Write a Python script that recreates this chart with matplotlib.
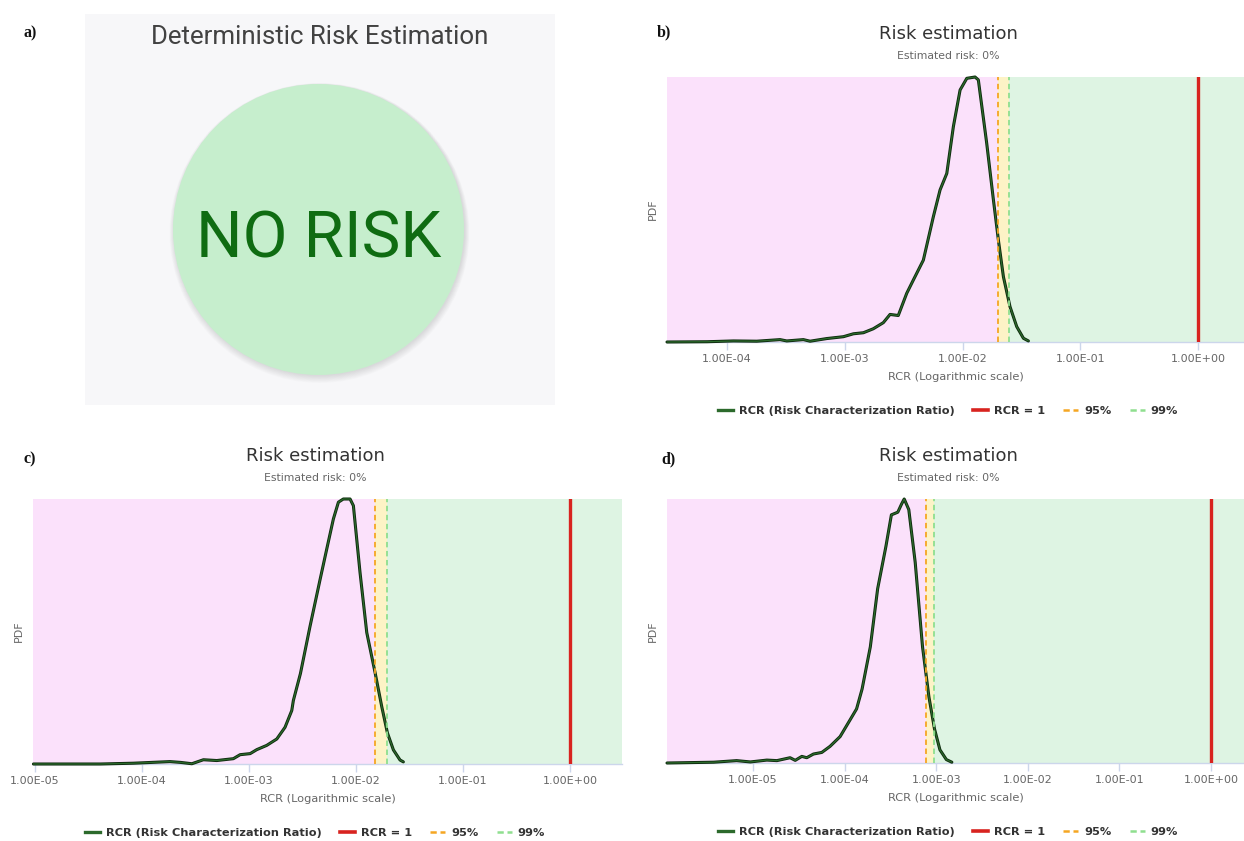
import matplotlib
matplotlib.use("Agg")
import matplotlib.pyplot as plt
from matplotlib.patches import Circle, Rectangle
from matplotlib.lines import Line2D
from matplotlib.ticker import FixedLocator, FuncFormatter, NullLocator

W, H = 1244, 841

# ---------------- data ----------------
# panel b: log10(RCR) and relative probability density
b_log_rcr = [-4.51, -4.17, -3.946, -3.748, -3.55, -3.493, -3.352, -3.295, -3.153,
             -3.012, -2.927, -2.842, -2.758, -2.673, -2.616, -2.546, -2.474, -2.418,
             -2.333, -2.248, -2.191, -2.134, -2.078, -2.021, -1.964, -1.894, -1.866,
             -1.795, -1.738, -1.696, -1.653, -1.597, -1.54, -1.483, -1.441]
b_pdf = [0.000, 0.001, 0.004, 0.003, 0.009, 0.004, 0.009, 0.003, 0.013,
         0.020, 0.031, 0.035, 0.050, 0.073, 0.104, 0.100, 0.184, 0.234,
         0.309, 0.473, 0.574, 0.636, 0.813, 0.951, 0.995, 1.000, 0.989,
         0.750, 0.536, 0.385, 0.246, 0.133, 0.058, 0.014, 0.004]
b_p95 = 0.0200
b_p99 = 0.0246
b_xlim = (10 ** -4.51, 10 ** 0.39)
b_ticks = [1e-4, 1e-3, 1e-2, 1e-1, 1e0]

# panel c
c_log_rcr = [-5.016, -4.39, -4.08, -3.74, -3.64, -3.535, -3.427, -3.302, -3.147,
             -3.084, -2.99, -2.928, -2.835, -2.741, -2.664, -2.601, -2.586, -2.52,
             -2.43, -2.336, -2.274, -2.212, -2.165, -2.119, -2.056, -2.025, -1.963,
             -1.9, -1.822, -1.76, -1.707, -1.651, -1.589, -1.558]
c_pdf = [0.000, 0.000, 0.003, 0.009, 0.006, 0.001, 0.016, 0.013, 0.020,
         0.035, 0.039, 0.054, 0.070, 0.094, 0.138, 0.201, 0.239, 0.340,
         0.518, 0.694, 0.808, 0.921, 0.984, 0.996, 0.996, 0.971, 0.720,
         0.494, 0.343, 0.216, 0.117, 0.053, 0.015, 0.008]
c_p95 = 0.0151
c_p99 = 0.0195
c_xlim = (10 ** -5.02, 10 ** 0.486)
c_ticks = [1e-5, 1e-4, 1e-3, 1e-2, 1e-1, 1e0]

# panel d
d_log_rcr = [-5.94, -5.43, -5.18, -5.03, -4.85, -4.74, -4.596, -4.54, -4.468, -4.414,
             -4.341, -4.25, -4.16, -4.05, -3.94, -3.87, -3.81, -3.72, -3.64, -3.55,
             -3.49, -3.42, -3.38, -3.35, -3.30, -3.23, -3.15, -3.08, -3.02, -2.96,
             -2.89, -2.83]
d_pdf = [0.000, 0.003, 0.009, 0.004, 0.011, 0.009, 0.020, 0.010, 0.025, 0.020,
         0.034, 0.040, 0.063, 0.100, 0.164, 0.205, 0.280, 0.440, 0.660, 0.820,
         0.940, 0.950, 0.980, 1.000, 0.960, 0.760, 0.440, 0.250, 0.130, 0.050,
         0.013, 0.003]
d_p95 = 0.000776
d_p99 = 0.000955
d_xlim = (10 ** -5.94, 10 ** 0.36)
d_ticks = [1e-5, 1e-4, 1e-3, 1e-2, 1e-1, 1e0]

RCR_LIMIT = 1.0

# ---------------- styling ----------------
PINK = "#fbe1fb"
YELLOW = "#fdf3c6"
GREEN_BG = "#def4e3"
CURVE = "#2c6a2c"
RED = "#d8231f"
ORANGE = "#f5a623"
LIGHTGREEN = "#8fdf8f"
AXIS_LINE = "#ccd6eb"
SANS = "DejaVu Sans"

fig = plt.figure(figsize=(W / 100, H / 100), dpi=100)
fig.patch.set_facecolor("white")

# pixel-space overlay for panel a and panel letters
bg = fig.add_axes([0, 0, 1, 1])
bg.set_xlim(0, W)
bg.set_ylim(H, 0)
bg.axis("off")
bg.set_zorder(0)


def fx(px):
    return px / W


def fy(py):
    return 1 - py / H


# ---------------- panel a ----------------
bg.add_patch(Rectangle((85, 14), 470, 391, facecolor="#f7f7f9", edgecolor="none"))
for i in range(10):
    bg.add_patch(Circle((319.5, 233.0 - i * 0.3), 150 - i * 0.5,
                        facecolor="#000000", alpha=0.012, edgecolor="none"))
bg.add_patch(Circle((318.5, 229.5), 145.5, facecolor="#c6eecd", edgecolor="none"))
bg.text(320, 44, "Deterministic Risk Estimation", ha="center", va="baseline",
        fontsize=18.6, color="#424242", family="Roboto")
bg.text(319, 257, "NO RISK", ha="center", va="baseline",
        fontsize=47, color="#0f6c12", family="Roboto")

# panel letters
for letter, (lx, ly) in {"a)": (24, 37), "b)": (657, 36),
                         "c)": (24, 463), "d)": (661, 463)}.items():
    bg.text(lx, ly, letter, ha="left", va="baseline", fontsize=11.5,
            family="Liberation Serif", weight="bold", color="#111111")


def sci_fmt(v, _pos):
    return f"{v:.2E}"


def risk_panel(box, chart_cx, log_rcr, pdf, p95, p99, xlim, ticks):
    x0, x1, y0, y1 = box
    ax = fig.add_axes([fx(x0), fy(y1), fx(x1 - x0), (y1 - y0) / H])
    ax.set_zorder(2)
    ax.set_xscale("log")
    ax.set_xlim(*xlim)
    ax.set_ylim(0, max(pdf))

    ax.axvspan(xlim[0], p95, color=PINK, lw=0, zorder=0)
    ax.axvspan(p95, p99, color=YELLOW, lw=0, zorder=0)
    ax.axvspan(p99, xlim[1], color=GREEN_BG, lw=0, zorder=0)

    rcr = [10.0 ** v for v in log_rcr]
    ax.plot(rcr, pdf, color="#0e2a0e", lw=2.2, zorder=3,
            solid_joinstyle="round", solid_capstyle="round", clip_on=False)
    ax.plot(rcr, pdf, color=CURVE, lw=0.9, zorder=4,
            solid_joinstyle="round", solid_capstyle="round", clip_on=False)

    ax.axvline(p95, color=ORANGE, lw=1.3, ls=(0, (3, 2)), zorder=5)
    ax.axvline(p99, color=LIGHTGREEN, lw=1.3, ls=(0, (3, 2)), zorder=5)
    ax.axvline(RCR_LIMIT, color=RED, lw=2.4, zorder=5)

    ax.xaxis.set_major_locator(FixedLocator(ticks))
    ax.xaxis.set_minor_locator(NullLocator())
    ax.xaxis.set_major_formatter(FuncFormatter(sci_fmt))
    ax.tick_params(axis="x", which="major", length=6, width=1, color=AXIS_LINE,
                   labelcolor="#666666", labelsize=8, pad=2.5)
    for lbl in ax.get_xticklabels():
        lbl.set_family(SANS)
    ax.set_yticks([])
    for side in ("top", "right", "left"):
        ax.spines[side].set_visible(False)
    ax.spines["bottom"].set_color(AXIS_LINE)
    ax.spines["bottom"].set_linewidth(1)

    fig.text(fx((x0 + x1) / 2), fy(y1 + 35), "RCR (Logarithmic scale)",
             ha="center", va="center", fontsize=8.2, color="#666666", family=SANS)
    fig.text(fx(x0 - 14), fy((y0 + y1) / 2), "PDF", rotation=90,
             ha="center", va="center", fontsize=8, color="#666666", family=SANS)
    fig.text(fx(chart_cx), fy(y0 - 43), "Risk estimation", ha="center", va="center",
             fontsize=13, color="#333333", family=SANS)
    fig.text(fx(chart_cx), fy(y0 - 21), "Estimated risk: 0%", ha="center", va="center",
             fontsize=7.8, color="#666666", family=SANS)

    handles = [
        Line2D([], [], color=CURVE, lw=2.4),
        Line2D([], [], color=RED, lw=2.6),
        Line2D([], [], color=ORANGE, lw=1.8, ls=(0, (2.5, 1.5))),
        Line2D([], [], color=LIGHTGREEN, lw=1.8, ls=(0, (2.5, 1.5))),
    ]
    labels = ["RCR (Risk Characterization Ratio)", "RCR = 1", "95%", "99%"]
    fig.legend(handles, labels, loc="center", ncol=4, frameon=False,
               bbox_to_anchor=(fx(chart_cx), fy(y1 + 69)),
               bbox_transform=fig.transFigure,
               prop={"family": SANS, "weight": "bold", "size": 8.2},
               labelcolor="#333333", handlelength=1.3, handletextpad=0.55,
               columnspacing=1.6, borderpad=0)
    return ax


risk_panel((667, 1244, 77, 342), 948, b_log_rcr, b_pdf, b_p95, b_p99, b_xlim, b_ticks)
risk_panel((33, 622, 499, 764), 315, c_log_rcr, c_pdf, c_p95, c_p99, c_xlim, c_ticks)
risk_panel((667, 1244, 499, 763), 948, d_log_rcr, d_pdf, d_p95, d_p99, d_xlim, d_ticks)

fig.savefig("out.png", dpi=100, facecolor="white")
